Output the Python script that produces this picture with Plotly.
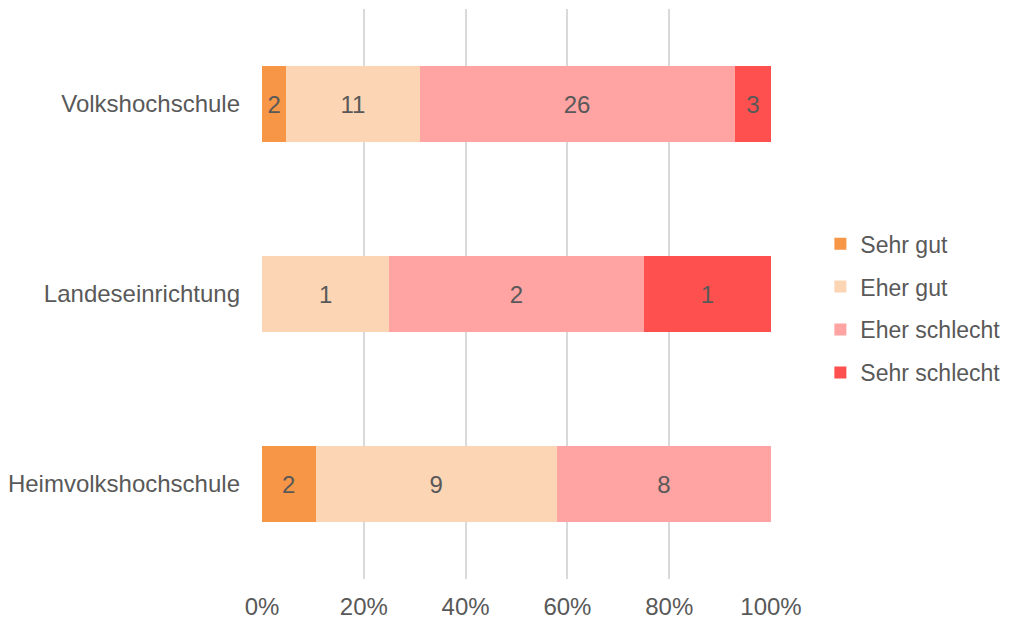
import plotly.graph_objects as go

categories = ["Volkshochschule", "Landeseinrichtung", "Heimvolkshochschule"]
series_names = ["Sehr gut", "Eher gut", "Eher schlecht", "Sehr schlecht"]
sehr_gut = [2, 0, 2]
eher_gut = [11, 1, 9]
eher_schlecht = [26, 2, 8]
sehr_schlecht = [3, 1, 0]
colors = ["#F79646", "#FCD5B4", "#FFA3A3", "#FF5050"]
tick_vals = [0, 20, 40, 60, 80, 100]
tick_text = ["0%", "20%", "40%", "60%", "80%", "100%"]

FONT = "Liberation Sans, Arial, sans-serif"
TXT = "#595959"

fig = go.Figure()
for i, (name, vals) in enumerate(zip(series_names, [sehr_gut, eher_gut, eher_schlecht, sehr_schlecht])):
    fig.add_trace(go.Bar(
        y=categories, x=vals, orientation="h", name=name,
        marker=dict(color=colors[i], line=dict(width=0)),
        text=[str(v) if v else "" for v in vals],
        textposition="inside", insidetextanchor="middle",
        textfont=dict(family=FONT, size=24, color=TXT),
        legendgroup=name, hoverinfo="skip",
    ))

fig.update_layout(
    width=1002, height=611,
    barmode="stack", barnorm="percent", bargap=0.605,
    paper_bgcolor="white", plot_bgcolor="white",
    margin=dict(l=254, r=239, t=1, b=40, autoexpand=False),
    font=dict(family=FONT, size=24, color=TXT),
    uniformtext=dict(mode=False),
    legend=dict(x=1.097, y=0.475, xanchor="left", yanchor="middle",
                traceorder="grouped", tracegroupgap=10,
                borderwidth=0,
                font=dict(family=FONT, size=23, color=TXT),
                itemwidth=30),
    xaxis=dict(range=[0, 100], tickvals=tick_vals, ticktext=tick_text,
               showgrid=True, gridcolor="#D9D9D9", gridwidth=2,
               zeroline=False, showline=False, ticks="", ticklen=0,
               ticklabelstandoff=11,
               tickfont=dict(size=24, color=TXT)),
    yaxis=dict(categoryorder="array", categoryarray=categories[::-1],
               showgrid=False, zeroline=False, showline=False, ticks="",
               ticklabelstandoff=21, tickfont=dict(size=24, color=TXT)),
)
fig.update_xaxes(automargin=False)
fig.update_yaxes(automargin=False)
fig.write_html("out.html")
